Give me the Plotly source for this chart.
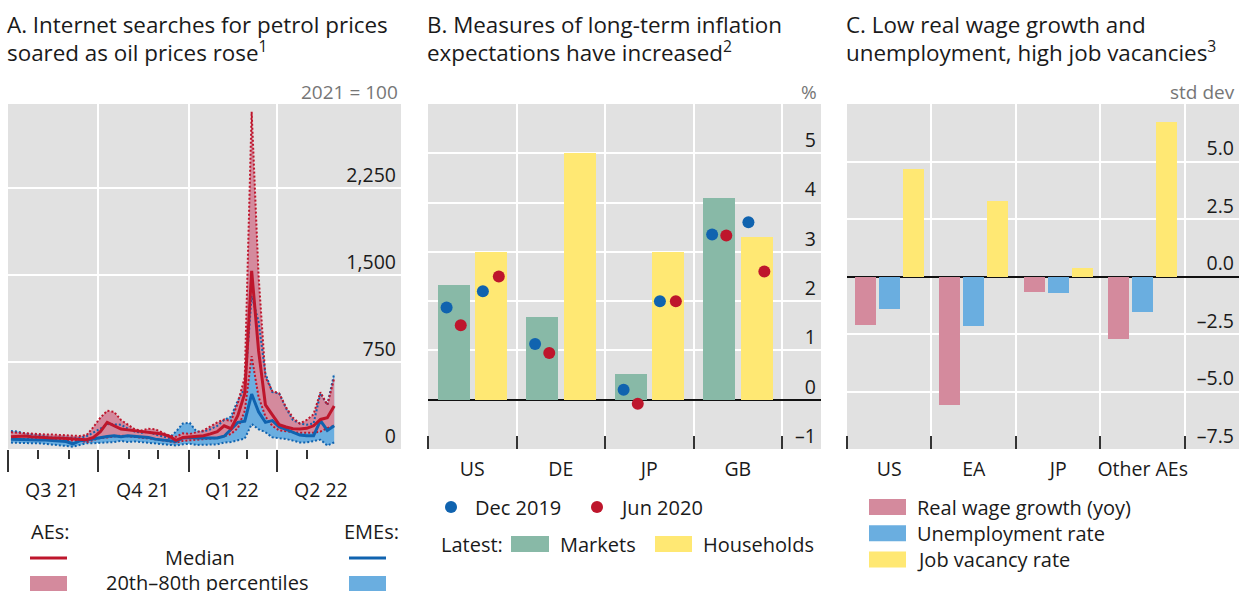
import plotly.graph_objects as go
import pandas as pd
import numpy as np

W, H = 1246, 591
FONT = "Open Sans"
TXT = "#1a1a1a"
GRAY = "#767676"
BG = "#e1e1e1"
RED = "#be162c"
BLUE = "#1063af"
PINK = "#d48a9d"
LBLUE = "#6aaee0"
YELLOW = "#ffe873"
GREEN = "#88b9a7"

# ---------------- Panel A data (index, 2021 = 100), weekly ----------------
week_start = "2021-07-04"
ae_median = [105, 110, 112, 105, 100, 98, 95, 95, 92, 90, 88, 80, 100, 150, 230, 200,
             172, 165, 158, 150, 144, 135, 130, 110, 75, 100, 105, 110, 115, 130, 150, 200,
             175, 290, 480, 1537, 850, 380, 290, 210, 190, 175, 172, 178, 200, 255, 270, 370]
ae_p80 = [144, 140, 140, 130, 128, 125, 125, 120, 118, 115, 112, 120, 190, 270, 330, 320,
          250, 210, 170, 160, 175, 170, 145, 115, 105, 135, 130, 145, 160, 195, 230, 255,
          240, 400, 620, 2908, 1500, 620, 500, 480, 360, 270, 220, 250, 300, 490, 380, 610]
ae_p20 = [90, 88, 85, 85, 80, 80, 78, 78, 75, 75, 72, 60, 80, 95, 100, 105,
          115, 110, 105, 100, 95, 85, 75, 65, 55, 70, 75, 78, 80, 85, 95, 110,
          130, 180, 330, 800, 450, 280, 200, 160, 150, 145, 140, 140, 140, 150, 180, 200]
eme_median = [85, 82, 80, 80, 78, 78, 75, 72, 65, 45, 70, 78, 90, 100, 108, 115,
              105, 115, 112, 105, 100, 85, 80, 70, 65, 95, 100, 95, 95, 95, 95, 110,
              170, 230, 240, 474, 320, 230, 245, 190, 170, 145, 120, 115, 115, 245, 160, 200]
eme_p80 = [155, 150, 135, 125, 120, 110, 100, 100, 98, 95, 95, 110, 140, 175, 215, 210,
           210, 175, 150, 140, 150, 125, 110, 95, 150, 220, 225, 150, 150, 170, 200, 250,
           280, 420, 520, 1320, 1100, 650, 490, 480, 350, 250, 220, 210, 220, 480, 380, 650]
eme_p20 = [55, 52, 50, 50, 50, 45, 40, 30, 25, 20, 35, 50, 50, 52, 55, 60,
           70, 60, 65, 60, 55, 45, 40, 40, 30, 40, 45, 35, 35, 40, 40, 55,
           60, 75, 90, 215, 170, 145, 100, 92, 86, 72, 57, 57, 70, 80, 30, 57]
weeks = pd.date_range(week_start, periods=len(ae_median), freq="7D")

a_range = ["2021-07-01", "2022-08-05"]
quarter_starts = ["2021-07-01", "2021-10-01", "2022-01-01", "2022-04-01"]
month_starts = ["2021-08-01", "2021-09-01", "2021-11-01", "2021-12-01",
                "2022-02-01", "2022-03-01", "2022-05-01"]
quarter_labels = ["Q3 21", "Q4 21", "Q1 22", "Q2 22"]
quarter_mids = ["2021-08-15", "2021-11-15", "2022-02-14", "2022-05-16"]
a_yticks = [0, 750, 1500, 2250]
a_yticktext = ["0", "750", "1,500", "2,250"]

# ---------------- Panel B data (%) ----------------
b_countries = ["US", "DE", "JP", "GB"]
b_markets = [2.32, 1.67, 0.52, 4.09]
b_households = [3.00, 5.00, 3.00, 3.31]
b_mkt_dec2019 = [1.87, 1.13, 0.20, 3.35]
b_mkt_jun2020 = [1.51, 0.95, -0.08, 3.33]
b_hh_dec2019 = [2.20, None, 2.00, 3.60]
b_hh_jun2020 = [2.50, None, 2.00, 2.60]
b_yticks = [-1, 0, 1, 2, 3, 4, 5]
b_yticktext = ["–1", "0", "1", "2", "3", "4", "5"]

# ---------------- Panel C data (std dev) ----------------
c_regions = ["US", "EA", "JP", "Other AEs"]
c_real_wage = [-2.12, -5.60, -0.69, -2.70]
c_unemp = [-1.42, -2.15, -0.73, -1.55]
c_vacancy = [4.66, 3.28, 0.39, 6.72]
c_yticks = [-7.5, -5.0, -2.5, 0.0, 2.5, 5.0]
c_yticktext = ["–7.5", "–5.0", "–2.5", "0.0", "2.5", "5.0"]


def px(x):
    return x / W


def py(y):
    return 1 - y / H


fig = go.Figure()

# ---- Panel A traces ----
def band_line(y, color, fill=None, fillcolor=None, dash=None, width=0):
    return go.Scatter(x=weeks, y=y, mode="lines", xaxis="x", yaxis="y",
                      line=dict(color=color, width=width, dash=dash),
                      fill=fill, fillcolor=fillcolor, showlegend=False, hoverinfo="skip")

fig.add_trace(band_line(eme_p20, LBLUE))
fig.add_trace(band_line(eme_p80, LBLUE, fill="tonexty", fillcolor=LBLUE))
fig.add_trace(band_line(ae_p20, PINK))
fig.add_trace(band_line(ae_p80, PINK, fill="tonexty", fillcolor=PINK))
for ser in (eme_p20, eme_p80):
    fig.add_trace(band_line(ser, BLUE, dash="2px,2px", width=2))
for ser in (ae_p20, ae_p80):
    fig.add_trace(band_line(ser, RED, dash="2px,2px", width=2))
fig.add_trace(go.Scatter(x=weeks, y=eme_median, mode="lines", xaxis="x", yaxis="y",
                         line=dict(color=BLUE, width=3), showlegend=False))
fig.add_trace(go.Scatter(x=weeks, y=ae_median, mode="lines", xaxis="x", yaxis="y",
                         line=dict(color=RED, width=3), showlegend=False))

# ---- Panel B traces ----
bc = np.arange(len(b_countries)) + 0.5
fig.add_trace(go.Bar(x=bc - 0.21, y=b_markets, width=0.362, marker=dict(color=GREEN, line=dict(width=0)),
                     xaxis="x2", yaxis="y2", showlegend=False))
fig.add_trace(go.Bar(x=bc + 0.215, y=b_households, width=0.362, marker=dict(color=YELLOW, line=dict(width=0)),
                     xaxis="x2", yaxis="y2", showlegend=False))
for xs, ys, col in ((bc - 0.29, b_mkt_dec2019, BLUE), (bc - 0.13, b_mkt_jun2020, RED),
                    (bc + 0.12, b_hh_dec2019, BLUE), (bc + 0.30, b_hh_jun2020, RED)):
    fig.add_trace(go.Scatter(x=xs, y=ys, mode="markers", xaxis="x2", yaxis="y2",
                             marker=dict(color=col, size=12, line=dict(width=0)), showlegend=False))

# ---- Panel C traces ----
cc = np.arange(len(c_regions)) + 0.5
for off, ys, col in ((-0.284, c_real_wage, PINK), (0.0, c_unemp, LBLUE), (0.284, c_vacancy, YELLOW)):
    fig.add_trace(go.Bar(x=cc + off, y=ys, width=0.25, marker=dict(color=col, line=dict(width=0)),
                         xaxis="x3", yaxis="y3", showlegend=False))

ydom = [py(449), py(104)]
tickfont = dict(family=FONT, size=19.5, color=TXT)

common_y = dict(side="right", showgrid=True, gridcolor="white", gridwidth=2, showline=False,
                ticks="", ticklabelposition="inside", ticklabelshift=-13, ticklabelstandoff=2,
                ticklabeloverflow="allow", tickfont=tickfont, tickmode="array", domain=ydom,
                automargin=False)

fig.update_layout(
    width=W, height=H, margin=dict(l=0, r=0, t=0, b=0, autoexpand=False), autosize=False,
    paper_bgcolor="white", plot_bgcolor=BG, bargap=0, barmode="overlay",
    font=dict(family=FONT, size=19.5, color=TXT),
    xaxis=dict(domain=[px(8), px(401)], type="date", range=a_range, tickmode="array",
               tickvals=quarter_starts, showticklabels=False, ticks="outside", ticklen=22,
               tickwidth=2, tickcolor="#333", showgrid=True, gridcolor="white", gridwidth=2,
               zeroline=False, showline=False, automargin=False,
               minor=dict(tickmode="array", tickvals=month_starts, ticks="outside", ticklen=9,
                          tickwidth=2, tickcolor="#333", showgrid=False)),
    yaxis=dict(anchor="x", range=[0, 2975], tickvals=a_yticks, ticktext=a_yticktext,
               zeroline=False, **common_y),
    xaxis2=dict(domain=[px(428), px(821)], anchor="y2", range=[0, 4.44], tickmode="array",
                tickvals=bc, ticktext=b_countries, ticks="", showgrid=False, zeroline=False,
                tickfont=tickfont, ticklabelstandoff=6, automargin=False,
                minor=dict(tickmode="array", tickvals=[0, 1, 2, 3, 4], ticks="inside", ticklen=13,
                           tickwidth=2, tickcolor="#333", showgrid=True, gridcolor="white", gridwidth=2)),
    yaxis2=dict(anchor="x2", range=[-1, 6], tickvals=b_yticks, ticktext=b_yticktext,
                zeroline=True, zerolinecolor="#111", zerolinewidth=2, **common_y),
    xaxis3=dict(domain=[px(847), px(1239)], anchor="y3", range=[0, 4.64], tickmode="array",
                tickvals=cc, ticktext=c_regions, ticks="", showgrid=False, zeroline=False,
                tickfont=tickfont, ticklabelstandoff=6, automargin=False,
                minor=dict(tickmode="array", tickvals=[0, 1, 2, 3, 4], ticks="inside", ticklen=13,
                           tickwidth=2, tickcolor="#333", showgrid=True, gridcolor="white", gridwidth=2)),
    yaxis3=dict(anchor="x3", range=[-7.5, 7.5], tickvals=c_yticks, ticktext=c_yticktext,
                zeroline=True, zerolinecolor="#111", zerolinewidth=2, **common_y),
)

annotations = []
shapes = []


def text(x, y, s, size=20, color=TXT, xanchor="left", yanchor="middle", xref="paper"):
    annotations.append(dict(x=x if xref != "paper" else px(x), y=py(y), xref=xref, yref="paper",
                            text=s, showarrow=False, xanchor=xanchor, yanchor=yanchor,
                            borderpad=0, font=dict(family=FONT, size=size, color=color)))


def rect(x0, y0, x1, y1, color):
    shapes.append(dict(type="rect", xref="paper", yref="paper", x0=px(x0), x1=px(x1),
                       y0=py(y1), y1=py(y0), fillcolor=color, line=dict(width=0)))


def hline(x0, x1, y, color, width=3):
    shapes.append(dict(type="line", xref="paper", yref="paper", x0=px(x0), x1=px(x1),
                       y0=py(y), y1=py(y), line=dict(color=color, width=width)))


def dot(cx, cy, r, color):
    shapes.append(dict(type="circle", xref="paper", yref="paper", x0=px(cx - r), x1=px(cx + r),
                       y0=py(cy + r), y1=py(cy - r), fillcolor=color, line=dict(width=0)))


TS = 22.4
# Titles
text(6, 24.5, "A. Internet searches for petrol prices", TS)
text(6, 51.5, "soared as oil prices rose<sup>1</sup>", TS)
text(426, 24.5, "B. Measures of long-term inflation", TS)
text(426, 51.5, "expectations have increased<sup>2</sup>", TS)
text(845, 24.5, "C. Low real wage growth and", TS)
text(845, 51.5, "unemployment, high job vacancies<sup>3</sup>", TS)

# Unit labels
text(399, 92, "2021 = 100", 19, GRAY, xanchor="right")
text(818, 92, "%", 19, GRAY, xanchor="right")
text(1236, 92, "std dev", 19, GRAY, xanchor="right")

# Panel A quarter labels
for lab, mid in zip(quarter_labels, quarter_mids):
    text(mid, 489, lab, 19.5, TXT, xanchor="center", xref="x")

# Panel A legend
text(30, 531, "AEs:", 20)
text(400, 531, "EMEs:", 20, xanchor="right")
hline(30, 67, 558, RED)
hline(349, 386, 558, BLUE)
text(200, 557, "Median", 20, xanchor="center")
rect(30, 576, 67, 593, PINK)
rect(349, 576, 386, 593, LBLUE)
text(207, 582, "20th–80th percentiles", 20, xanchor="center")

# Panel B legend
dot(451, 507, 6, BLUE)
text(474, 507, "Dec 2019", 20)
dot(597, 507, 6, RED)
text(619, 507, "Jun 2020", 20)
text(440, 544, "Latest:", 20)
rect(511, 536, 549, 552, GREEN)
text(559, 544, "Markets", 20)
rect(655, 536, 692, 552, YELLOW)
text(702, 544, "Households", 20)

# Panel C legend
for i, (lab, col) in enumerate((("Real wage growth (yoy)", PINK), ("Unemployment rate", LBLUE),
                                ("Job vacancy rate", YELLOW))):
    yc = 507 + 26.3 * i
    rect(869, yc - 8, 906, yc + 8, col)
    text(916, yc, lab, 20)

fig.update_layout(annotations=annotations, shapes=shapes)
fig.write_html("out.html",
               config={"responsive": False, "displayModeBar": False},
               post_script="document.body.style.margin='0px';document.body.style.overflow='hidden';")
